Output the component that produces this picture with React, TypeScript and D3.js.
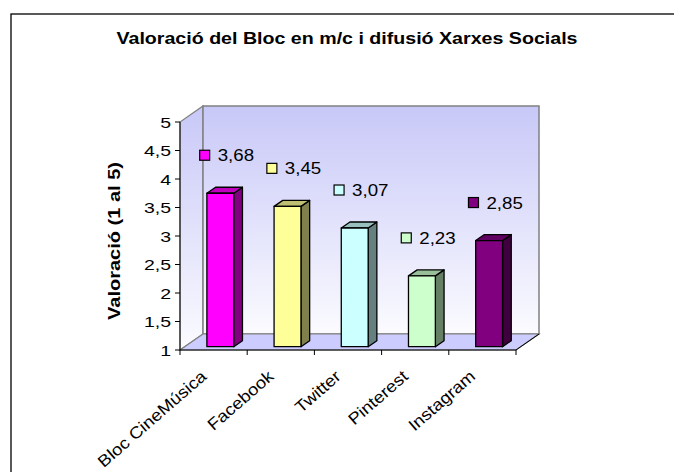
import React from 'react'
import * as d3 from 'd3'

const width = 674
const height = 472

const categories = ['Bloc CineMúsica', 'Facebook', 'Twitter', 'Pinterest', 'Instagram']
const values = [3.68, 3.45, 3.07, 2.23, 2.85]
const labels = ['3,68', '3,45', '3,07', '2,23', '2,85']
const yTicks = [1, 1.5, 2, 2.5, 3, 3.5, 4, 4.5, 5]
const yTickLabels = ['1', '1,5', '2', '2,5', '3', '3,5', '4', '4,5', '5']

const title = 'Valoració del Bloc en m/c i difusió Xarxes Socials'
const yTitle = 'Valoració (1 al 5)'

// front, side, top shades for each bar
const colors = [
  ['#FF00FF', '#800080', '#BF00BF'],
  ['#FFFF99', '#80804D', '#BFBF73'],
  ['#CCFFFF', '#668080', '#99BFBF'],
  ['#CCFFCC', '#668066', '#99BF99'],
  ['#800080', '#400040', '#600060'],
]

const font = 'Arial, "Liberation Sans", sans-serif'

const App = () => {
  const x = d3.scaleBand<string>().domain(categories).range([180, 516]).padding(0)
  const y = d3.scaleLinear().domain([1, 5]).range([350, 122])
  const bw = x.bandwidth()

  // depth of the floor / walls
  const dx = 23
  const dy = -16
  // depth of a bar and its offset into the floor
  const bdx = 8.7
  const bdy = -6
  const off = 4

  const x0 = 180
  const x1 = 516
  const yTop = y(5)
  const yBot = y(1)

  const bars = values.map((v, i) => {
    const left = x(categories[i])! + bw * 0.4
    const w = bw * 0.4
    const top = y(v) - off
    const bottom = yBot - off + 0.7
    return { left, w, top, bottom, c: colors[i], label: labels[i] }
  })

  return (
    <svg width={width} height={height} style={{ position: 'absolute', left: 0, top: 0 }}>
      <defs>
        <linearGradient id="wall" x1="0" y1="0" x2="0" y2="1">
          <stop offset="0" stopColor="#C8C8F8" />
          <stop offset="1" stopColor="#FBFBFF" />
        </linearGradient>
      </defs>
      <rect x={0} y={0} width={width} height={height} fill="#fff" />
      <rect x={11} y={14} width={720} height={520} fill="none" stroke="#000" strokeWidth={1.3} />

      <text x={347} y={44} textAnchor="middle" fontFamily={font} fontWeight="bold" fontSize={16.5}
        textLength={461} lengthAdjust="spacingAndGlyphs">{title}</text>

      {/* walls and floor */}
      <polygon points={`${x0},${yBot} ${x0},${yTop} ${x0 + dx},${yTop + dy} ${x0 + dx},${yBot + dy}`}
        fill="url(#wall)" stroke="#808080" strokeWidth={1.2} />
      <polygon points={`${x0 + dx},${yTop + dy} ${x1 + dx},${yTop + dy} ${x1 + dx},${yBot + dy} ${x0 + dx},${yBot + dy}`}
        fill="url(#wall)" stroke="#808080" strokeWidth={1.5} />
      <polygon points={`${x0},${yBot} ${x1},${yBot} ${x1 + dx},${yBot + dy} ${x0 + dx},${yBot + dy}`}
        fill="#CCCCFF" stroke="#808080" strokeWidth={1.2} />
      <line x1={x1} y1={yBot} x2={x1 + dx} y2={yBot + dy} stroke="#000" strokeWidth={1} />

      {/* y axis */}
      <line x1={x0} y1={yTop} x2={x0} y2={yBot} stroke="#000" strokeWidth={1} />
      {yTicks.map((t, i) => (
        <g key={t}>
          <line x1={x0 - 5} x2={x0} y1={y(t)} y2={y(t)} stroke="#000" strokeWidth={1} />
          <text transform={`translate(${x0 - 9},${y(t) + 5.5}) scale(1.3,1)`} textAnchor="end"
            fontFamily={font} fontSize={15}>{yTickLabels[i]}</text>
        </g>
      ))}
      <text transform={`translate(120,241) rotate(-90)`} textAnchor="middle" fontFamily={font}
        fontWeight="bold" fontSize={16} textLength={158} lengthAdjust="spacingAndGlyphs">{yTitle}</text>

      {/* x axis */}
      <line x1={x0} y1={yBot} x2={x1} y2={yBot} stroke="#000" strokeWidth={1} />
      {[...categories.map(c => x(c)!), x1].map((t, i) => (
        <line key={i} x1={t} x2={t} y1={yBot} y2={yBot + 5} stroke="#000" strokeWidth={1} />
      ))}
      {categories.map(c => (
        <text key={c} transform={`translate(${x(c)! + bw / 2 - 6},378) rotate(-41) scale(1.12,1)`}
          textAnchor="end" fontFamily={font} fontSize={16.5}>{c}</text>
      ))}

      {/* bars */}
      {bars.map((b, i) => (
        <g key={i} stroke="#000" strokeWidth={1.3} strokeLinejoin="round">
          <polygon points={`${b.left + b.w},${b.top} ${b.left + b.w + bdx},${b.top + bdy} ${b.left + b.w + bdx},${b.bottom + bdy} ${b.left + b.w},${b.bottom}`}
            fill={b.c[1]} />
          <polygon points={`${b.left},${b.top} ${b.left + bdx},${b.top + bdy} ${b.left + b.w + bdx},${b.top + bdy} ${b.left + b.w},${b.top}`}
            fill={b.c[2]} />
          <rect x={b.left} y={b.top} width={b.w} height={b.bottom - b.top} fill={b.c[0]} />
        </g>
      ))}

      {/* data labels */}
      {bars.map((b, i) => {
        const cx = b.left + (b.w + bdx) / 2 + 2
        const cy = b.top + bdy - 32
        return (
          <g key={i}>
            <rect x={cx - 27} y={cy - 5} width={10} height={10} fill={b.c[0]} stroke="#000" strokeWidth={1.2} />
            <text transform={`translate(${cx - 9},${cy + 6}) scale(1.1,1)`} fontFamily={font} fontSize={17}>{b.label}</text>
          </g>
        )
      })}
    </svg>
  )
}

export default App
